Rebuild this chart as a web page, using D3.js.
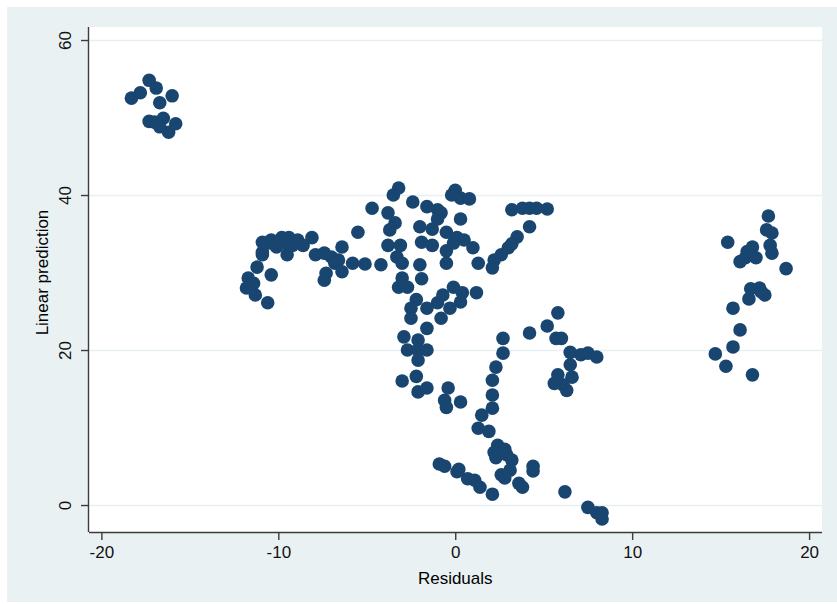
<!DOCTYPE html>
<html>
<head>
<meta charset="utf-8">
<script src="https://cdn.jsdelivr.net/npm/d3@7"></script>
<style>
  body { margin: 0; background: #fff; }
  text { font-family: "Liberation Sans", Arial, sans-serif; }
  .axis path, .axis line { stroke: #3c3c3c; stroke-width: 1.4; }
  .axis text { font-size: 17px; fill: #111; }
</style>
</head>
<body>
<script>

// residuals (x) and linear prediction (y)
var residuals = [
  -17.3, -16.9, -17.8, -18.3, -16.0, -16.7, -17.3, -17.0, -16.5, -16.7, -16.2, -15.8,
  -10.9, -10.4, -9.8, -9.4, -8.9, -8.6, -10.9, -10.9, -10.1, -9.5, -8.1, -7.9, -7.4, -7.0,
  -6.4, -6.6, -6.8, -7.3, -7.4, -6.4, -5.8, -5.1, -5.5, -11.2, -10.4, -11.7, -11.8, -11.3,
  -10.6, -10.6, -9.6, -9.2, -11.4,
  -4.2, -3.2, -3.5, -2.4, -4.7, -3.8, -1.6, -1.0, -0.8, -1.0, 0.0, -0.2, 0.3, 0.8, 0.3,
  -3.4, -3.7, -3.8, -3.1, -3.3, -3.0, -2.0, -1.3, -1.9, -1.3, -2.0, -0.5, 0.1, 0.5, -0.1,
  1.0, -0.5, -0.5, 1.3, -3.0, -3.2, -2.7, -1.9, -2.2, -2.5, -2.5, -1.6, -1.0, -0.7, -0.1,
  -0.3, -0.8, 0.4, 0.3, 1.2, -1.6, -2.9, -2.1, -2.7, -2.1, -1.6, -2.1, -3.0, -2.2, -2.1,
  -1.6, -0.4, -0.6, -0.5, 0.3,
  3.2, 3.8, 4.2, 4.6, 5.2, 4.2, 3.5, 3.0, 2.6, 2.2, 2.1, 3.2,
  2.7, 2.7, 2.3, 2.1, 2.1, 2.1, 1.5, 1.3, 1.9, 2.4, 2.2, 2.8, 2.3, 2.9, 3.2, 2.6, 2.8, 3.1,
  4.4, 4.4, -0.9, -0.6, 0.1, 0.7, 1.1, 1.4, 2.1, 3.6, 3.8, 6.2, 7.5, 8.0, 8.3, 8.3, 0.2,
  5.8, 5.2, 4.2, 5.7, 6.0, 6.5, 7.1, 7.5, 8.0, 6.5, 6.6, 5.8, 5.6, 6.1, 6.3,
  17.7, 17.6, 17.9, 15.4, 16.8, 17.8, 17.9, 17.0, 16.4, 16.1, 18.7, 16.7, 17.2, 17.5, 16.6,
  15.7, 16.1, 15.7, 14.7, 15.3, 16.8, 16.5, 17.3
];
var predictions = [
  54.8, 53.8, 53.2, 52.5, 52.8, 51.9, 49.5, 49.4, 49.9, 48.8, 48.1, 49.2,
  33.9, 34.2, 34.5, 34.5, 34.2, 33.5, 32.6, 32.3, 33.3, 32.3, 34.5, 32.3, 32.5, 32.0,
  33.3, 31.6, 31.2, 29.9, 29.0, 30.1, 31.2, 31.1, 35.2, 30.7, 29.7, 29.3, 28.0, 27.1,
  26.1, 33.8, 33.8, 33.5, 28.6,
  31.0, 40.9, 40.0, 39.1, 38.3, 37.7, 38.5, 38.1, 37.7, 36.9, 40.6, 40.0, 39.6, 39.5, 36.9,
  36.4, 35.5, 33.5, 33.5, 32.0, 31.2, 35.9, 35.6, 33.9, 33.5, 31.0, 35.2, 34.5, 34.2, 33.8,
  33.2, 32.8, 31.2, 31.2, 29.3, 28.1, 28.1, 29.2, 26.5, 25.4, 24.1, 25.4, 26.1, 27.1, 28.1,
  25.4, 24.1, 27.4, 26.2, 27.4, 22.8, 21.7, 21.3, 20.0, 20.0, 20.0, 18.7, 16.0, 16.6, 14.6,
  15.1, 15.1, 13.5, 12.6, 13.3,
  38.1, 38.3, 38.3, 38.3, 38.2, 35.9, 34.6, 33.2, 32.3, 31.6, 30.6, 33.7,
  21.5, 19.6, 17.8, 16.1, 14.2, 12.5, 11.6, 9.9, 9.5, 7.7, 6.8, 7.2, 6.1, 6.5, 5.8, 3.9, 3.5, 4.5,
  5.0, 4.4, 5.3, 5.0, 4.3, 3.4, 3.2, 2.3, 1.4, 2.8, 2.3, 1.7, -0.3, -1.0, -1.0, -1.8, 4.6,
  24.8, 23.1, 22.2, 21.5, 21.5, 19.7, 19.4, 19.6, 19.1, 18.1, 16.5, 16.8, 15.7, 15.5, 14.8,
  37.3, 35.5, 35.1, 33.9, 33.3, 33.5, 32.5, 31.9, 31.9, 31.4, 30.5, 27.9, 28.0, 27.1, 26.6,
  25.4, 22.6, 20.4, 19.5, 17.9, 16.8, 32.7, 27.5
];

var xTicks = [-20, -10, 0, 10, 20];
var yTicks = [0, 20, 40, 60];

var data = residuals.map(function (r, i) { return {x: r, y: predictions[i]}; });

var W = 837, H = 604;
var plot = {left: 89, right: 822, top: 27, bottom: 532};

var svg = d3.select("body").append("svg")
    .attr("width", W)
    .attr("height", H);

// light outer graph region
svg.append("rect")
    .attr("x", 7).attr("y", 7)
    .attr("width", W - 7).attr("height", 595)
    .attr("fill", "#e9f1f2");

// white plot region
svg.append("rect")
    .attr("x", plot.left).attr("y", plot.top)
    .attr("width", plot.right - plot.left).attr("height", plot.bottom - plot.top)
    .attr("fill", "#ffffff");

var x = d3.scaleLinear().domain([-20.7, 20.73]).range([plot.left, plot.right]);
var y = d3.scaleLinear().domain([-3.48, 61.68]).range([plot.bottom, plot.top]);

// plain hyphen for negatives, as in the original
var fmt = function (d) { return String(d); };

// horizontal gridlines
svg.append("g")
    .attr("transform", "translate(" + plot.left + ",0)")
    .call(d3.axisRight(y).tickValues(yTicks).tickSize(plot.right - plot.left).tickFormat(""))
    .call(function (g) { g.select(".domain").remove(); })
    .selectAll("line")
    .attr("stroke", "#e6eff1")
    .attr("stroke-width", 1.5);

// dots
svg.append("g")
    .selectAll("circle")
    .data(data)
    .enter()
    .append("circle")
    .attr("cx", function (d) { return x(d.x); })
    .attr("cy", function (d) { return y(d.y); })
    .attr("r", 6.8)
    .style("fill", "#184670");

// x axis
var gx = svg.append("g")
    .attr("class", "axis")
    .attr("transform", "translate(0," + plot.bottom + ")")
    .call(d3.axisBottom(x).tickValues(xTicks).tickFormat(fmt).tickSize(8).tickSizeOuter(0).tickPadding(6));
gx.select(".domain").attr("d", "M" + plot.left + ",0.5H" + plot.right);

// y axis, labels turned like the original
var gy = svg.append("g")
    .attr("class", "axis")
    .attr("transform", "translate(" + plot.left + ",0)")
    .call(d3.axisLeft(y).tickValues(yTicks).tickFormat(fmt).tickSize(8).tickSizeOuter(0));
gy.select(".domain").attr("d", "M-0.5," + plot.top + "V" + plot.bottom);
gy.selectAll(".tick text")
    .attr("x", 0).attr("dy", 0)
    .attr("text-anchor", "middle")
    .attr("transform", "translate(-18,0) rotate(-90)");

// axis titles
svg.append("text")
    .attr("x", (x(-20) + x(20)) / 2)
    .attr("y", 584)
    .attr("text-anchor", "middle")
    .style("font-size", "17px")
    .text("Residuals");

svg.append("text")
    .attr("transform", "translate(48," + y(30) + ") rotate(-90)")
    .attr("text-anchor", "middle")
    .style("font-size", "17px")
    .text("Linear prediction");

</script>
</body>
</html>
